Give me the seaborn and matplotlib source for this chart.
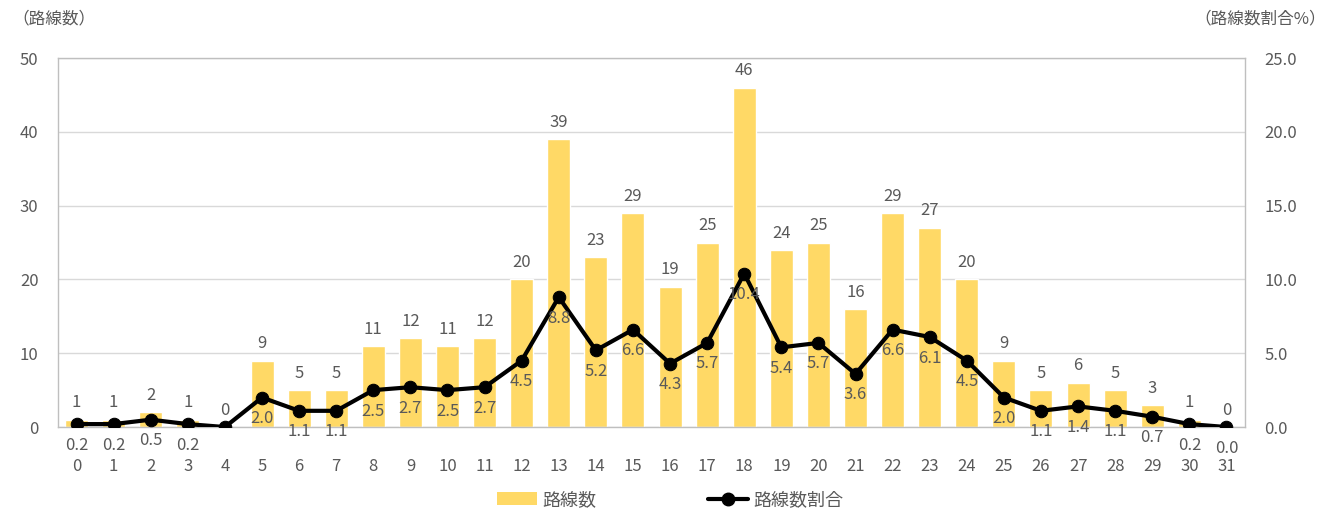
import matplotlib
matplotlib.use("Agg")
import matplotlib.pyplot as plt
import seaborn as sns
from matplotlib.lines import Line2D
from matplotlib.patches import Patch

# data
hours = list(range(32))
route_counts = [1, 1, 2, 1, 0, 9, 5, 5, 11, 12, 11, 12, 20, 39, 23, 29,
                19, 25, 46, 24, 25, 16, 29, 27, 20, 9, 5, 6, 5, 3, 1, 0]
route_share = [0.2, 0.2, 0.5, 0.2, 0.0, 2.0, 1.1, 1.1, 2.5, 2.7, 2.5, 2.7,
               4.5, 8.8, 5.2, 6.6, 4.3, 5.7, 10.4, 5.4, 5.7, 3.6, 6.6, 6.1,
               4.5, 2.0, 1.1, 1.4, 1.1, 0.7, 0.2, 0.0]
# the reference leaves out the share label for hour 4
share_label_skip = [4]

sns.set_style("white")
plt.rcParams['font.family'] = ['Noto Sans CJK JP', 'DejaVu Sans']

BAR = "#FFD966"
TXT = "#595959"
GRID = "#D9D9D9"
FS = 12

fig = plt.figure(figsize=(13.3, 5.09), dpi=100)
ax = fig.add_axes([0.0436, 0.161, 0.8925, 0.725])

sns.barplot(x=hours, y=route_counts, color=BAR, width=0.62, saturation=1,
            ax=ax, zorder=2)
ax.set_xlim(-0.5, 31.5)
ax.set_ylim(0, 50)
ax.set_yticks(range(0, 51, 10))
ax.yaxis.grid(True, color=GRID, lw=1, zorder=0)
ax.set_axisbelow(True)
for s in ax.spines.values():
    s.set_color("#BFBFBF")
    s.set_linewidth(1)
ax.tick_params(axis="y", length=0, pad=14, labelsize=FS, labelcolor=TXT)
ax.tick_params(axis="x", length=0, pad=22, labelsize=FS, labelcolor=TXT)
ax.set_xlabel("")
ax.set_ylabel("")

for i, v in enumerate(route_counts):
    ax.annotate(str(v), (i, v), xytext=(0, 6), textcoords="offset points",
                ha="center", va="bottom", fontsize=FS, color=TXT)

ax2 = ax.twinx()
sns.lineplot(x=hours, y=route_share, color="black", lw=3, marker="o",
             markersize=9, markeredgecolor="black", ax=ax2, zorder=3)
ax2.set_ylim(0, 25)
ax2.set_yticks([0, 5, 10, 15, 20, 25])
ax2.set_yticklabels([f"{t:.1f}" for t in [0, 5, 10, 15, 20, 25]])
ax2.tick_params(axis="y", length=0, pad=14, labelsize=FS, labelcolor=TXT)
for s in ax2.spines.values():
    s.set_visible(False)
ax2.set_ylabel("")

for i, v in enumerate(route_share):
    if i in share_label_skip:
        continue
    ax2.annotate(f"{v:.1f}", (i, v), xytext=(0, -9), textcoords="offset points",
                 ha="center", va="top", fontsize=FS, color=TXT)

fig.text(0.009, 0.962, "（路線数）", fontsize=FS, color=TXT, va="center")
fig.text(0.997, 0.962, "（路線数割合%）", fontsize=FS, color=TXT,
         va="center", ha="right")

handles = [Patch(facecolor=BAR, edgecolor="none"),
           Line2D([0], [0], color="black", lw=3, marker="o", markersize=9)]
fig.legend(handles, ["路線数", "路線数割合"], loc="center", ncol=2,
           bbox_to_anchor=(0.504, 0.018), frameon=False, fontsize=13,
           labelcolor=TXT, columnspacing=6.2, handlelength=2.2,
           handletextpad=0.3)

fig.savefig("out.png", dpi=100)
